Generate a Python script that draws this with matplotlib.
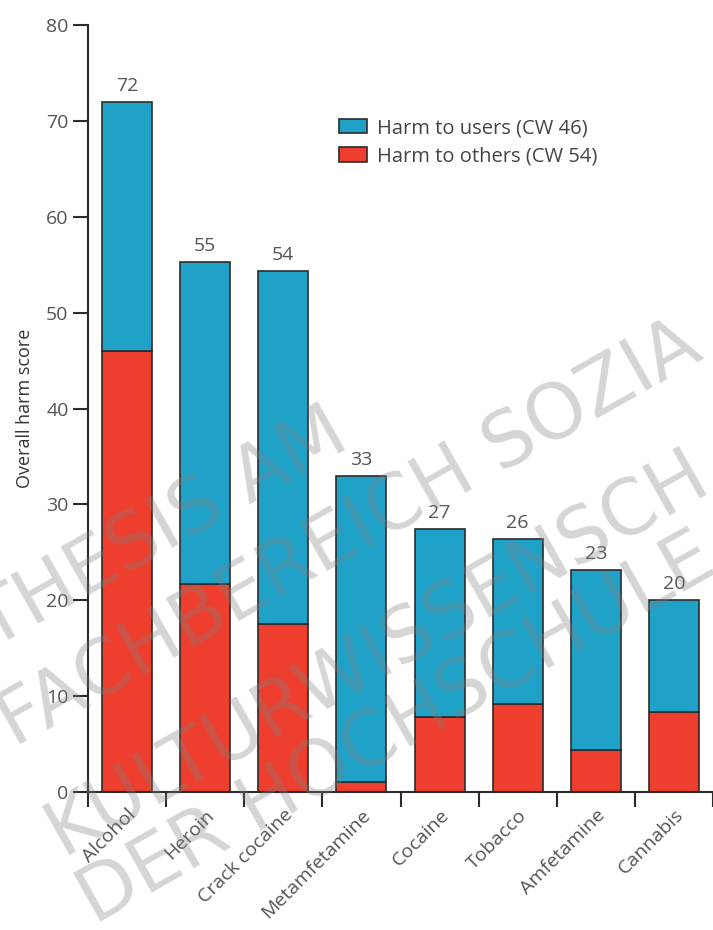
import numpy as np
import matplotlib
matplotlib.use('Agg')
import matplotlib.pyplot as plt

drugs = ['Alcohol', 'Heroin', 'Crack cocaine', 'Metamfetamine',
         'Cocaine', 'Tobacco', 'Amfetamine', 'Cannabis']
others = [46, 21.7, 17.5, 1.0, 7.8, 9.2, 4.4, 8.3]
users = [26, 33.6, 36.8, 32.0, 19.6, 17.2, 18.8, 11.7]
totals = [72, 55, 54, 33, 27, 26, 23, 20]

blue = '#20a2c8'
red = '#ee3e2e'
edge = '#2b2b2b'
grey = '#555555'

plt.rcParams['font.family'] = ['Open Sans', 'DejaVu Sans']

W, H = 713, 930
fig = plt.figure(figsize=(W / 100, H / 100), dpi=100)
ax = fig.add_axes([88 / W, 1 - 792 / H, 1 - 88 / W, (792 - 25) / H])

x = np.arange(len(drugs))
ax.bar(x, others, width=0.64, color=red, edgecolor=edge, linewidth=1.2,
       label='Harm to others (CW 54)')
ax.bar(x, users, width=0.64, bottom=others, color=blue, edgecolor=edge,
       linewidth=1.2, label='Harm to users (CW 46)')

tops = np.array(others) + np.array(users)
for xi, top, t in zip(x, tops, totals):
    ax.annotate(str(t), (xi, top), xytext=(0, 5), textcoords='offset points',
                ha='center', va='bottom', fontsize=14, color=grey)

# 坐标轴
ax.set_xlim(-0.5, 7.5)
ax.set_ylim(0, 80)
ax.set_yticks(range(0, 81, 10))
ax.set_xticks(x)
ax.set_xticklabels(drugs, rotation=45, ha='right', rotation_mode='anchor',
                   fontsize=14, color=grey)
ax.set_xticks(np.arange(-0.5, 8, 1), minor=True)
ax.tick_params(axis='x', which='major', length=0, pad=10)
ax.tick_params(axis='x', which='minor', length=11, width=1.5, color=edge)
ax.tick_params(axis='y', length=11, width=1.5, color=edge, labelsize=14,
               labelcolor=grey, pad=3)
for s in ['top', 'right']:
    ax.spines[s].set_visible(False)
for s in ['left', 'bottom']:
    ax.spines[s].set_linewidth(1.5)
    ax.spines[s].set_color(edge)
ax.set_ylabel('Overall harm score', fontsize=13, color='#333333', labelpad=9)

handles, labels = ax.get_legend_handles_labels()
ax.legend(handles[::-1], labels[::-1], loc='upper left',
          bbox_to_anchor=(321 / W, 1 - 100 / H), bbox_transform=fig.transFigure,
          frameon=False, fontsize=14.5, handlelength=1.4, handleheight=0.75,
          handletextpad=0.5, labelspacing=0.4, labelcolor='#444444')

# 水印
marks = [('THESIS AM', -8, 650), ('FACHBEREICH SOZIA', 15, 748),
         ('KULTURWISSENSCH', 62, 855), ('DER HOCHSCHULE', 95, 925)]
for txt, px, py in marks:
    fig.text(px / W, 1 - py / H, txt, rotation=29.5, rotation_mode='anchor',
             ha='left', va='baseline', fontsize=55, color='#808080', alpha=0.33,
             family='DejaVu Sans', zorder=10)

fig.savefig('out.png', dpi=100)
